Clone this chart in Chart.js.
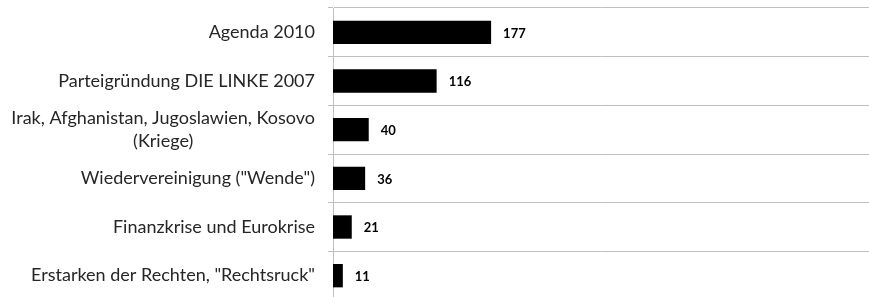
<!DOCTYPE html>
<html>
<head>
<meta charset="utf-8">
<script src="https://cdn.jsdelivr.net/npm/chart.js@4"></script>
<style>
  html, body { margin: 0; padding: 0; background: #ffffff; overflow: hidden; }
  #wrap { width: 869px; height: 300px; }
</style>
</head>
<body>
<div id="wrap"><canvas id="c" width="869" height="300"></canvas></div>
<script>
const categories = [
  ["Agenda 2010"],
  ["Parteigründung DIE LINKE 2007"],
  ["Irak, Afghanistan, Jugoslawien, Kosovo", "(Kriege)"],
  ["Wiedervereinigung (\"Wende\")"],
  ["Finanzkrise und Eurokrise"],
  ["Erstarken der Rechten, \"Rechtsruck\""]
];
const values = [177, 116, 40, 36, 21, 11];
const xMax = 600;

const labelFont = '18px Lato, "Open Sans", sans-serif';
const valueFont = 'bold 13px Lato, "Open Sans", sans-serif';

const labelPlugin = {
  id: 'labels',
  afterDatasetsDraw(chart) {
    const ctx = chart.ctx;
    const y = chart.scales.y;
    const x = chart.scales.x;
    ctx.save();
    // category labels
    ctx.font = labelFont;
    ctx.fillStyle = '#262626';
    ctx.textBaseline = 'middle';
    const rightEdge = y.right - 18;
    const lineH = 23;
    categories.forEach((lines, i) => {
      const cy = y.getPixelForValue(i);
      const widths = lines.map(l => ctx.measureText(l).width);
      const maxW = Math.max(...widths);
      const centerX = rightEdge - maxW / 2;
      const startY = cy - (lines.length - 1) * lineH / 2;
      lines.forEach((l, j) => {
        ctx.textAlign = lines.length > 1 ? 'center' : 'right';
        ctx.fillText(l, lines.length > 1 ? centerX : rightEdge, startY + j * lineH);
      });
    });
    // value labels
    ctx.font = valueFont;
    ctx.fillStyle = '#000000';
    ctx.textAlign = 'left';
    values.forEach((v, i) => {
      ctx.fillText(String(v), x.getPixelForValue(v) + 12, y.getPixelForValue(i) + 1);
    });
    ctx.restore();
  }
};

new Chart(document.getElementById('c'), {
  type: 'bar',
  data: {
    labels: categories.map(c => c.join(' ')),
    datasets: [{
      data: values,
      backgroundColor: '#000000',
      borderWidth: 0,
      barPercentage: 0.48,
      categoryPercentage: 1.0
    }]
  },
  options: {
    indexAxis: 'y',
    responsive: false,
    animation: false,
    devicePixelRatio: 1,
    layout: { padding: { top: 8, bottom: 0, left: 0, right: 0 } },
    plugins: { legend: { display: false }, tooltip: { enabled: false } },
    scales: {
      x: {
        display: false,
        min: 0,
        max: xMax
      },
      y: {
        afterFit(s) { s.width = 333; },
        ticks: { display: false },
        grid: {
          offset: true,
          color: '#bfbfbf',
          lineWidth: 1,
          drawTicks: true,
          tickLength: 5
        },
        border: { display: true, color: '#bfbfbf', width: 1 }
      }
    }
  },
  plugins: [labelPlugin]
});
</script>
</body>
</html>
